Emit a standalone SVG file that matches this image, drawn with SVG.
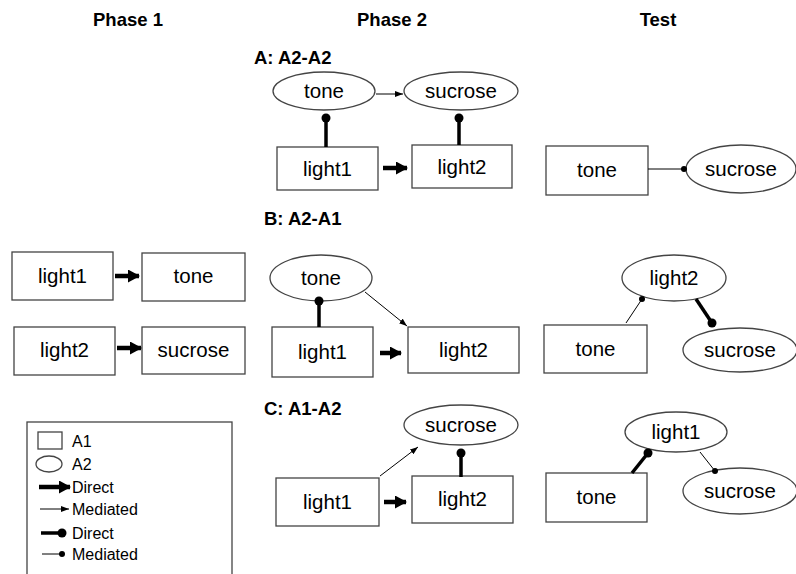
<svg xmlns="http://www.w3.org/2000/svg" width="796" height="574" viewBox="0 0 796 574">
<style>
text{font-family:"Liberation Sans",Arial,sans-serif;fill:#000}
.h{font-size:18.5px;font-weight:bold}
.n{font-size:20.5px;text-anchor:middle}
.lg{font-size:16px}
.box{fill:#fff;stroke:#444;stroke-width:1.3}
.thick{stroke:#000;stroke-width:4.5;fill:none}
.thin{stroke:#000;stroke-width:1;fill:none}
.dir{stroke:#000;stroke-width:3.5;fill:none}
.med{stroke:#000;stroke-width:1;fill:none}
.ball{fill:#000}
</style>
<defs>
<marker id="bigHead" markerUnits="userSpaceOnUse" markerWidth="12" markerHeight="13" refX="11" refY="6.5" orient="auto">
<path d="M0,0 L12,6.5 L0,13 Z" fill="#000"/>
</marker>
<marker id="smallHead" markerUnits="userSpaceOnUse" markerWidth="8" markerHeight="6" refX="8" refY="3" orient="auto">
<path d="M0,0 L8,3 L0,6 Z" fill="#000"/>
</marker>
</defs>

<g id="headers">
<text class="h" x="128" y="26" text-anchor="middle">Phase 1</text>
<text class="h" x="392" y="26" text-anchor="middle">Phase 2</text>
<text class="h" x="658" y="26" text-anchor="middle">Test</text>
<text class="h" x="254" y="64">A: A2-A2</text>
<text class="h" x="264" y="225">B: A2-A1</text>
<text class="h" x="264" y="415">C: A1-A2</text>
</g>

<!-- Phase 1 -->
<g id="p1-light1"><rect class="box" x="12" y="252" width="101" height="48"/><text class="n" x="62.5" y="283">light1</text></g>
<g id="p1-tone"><rect class="box" x="142" y="253" width="103" height="48"/><text class="n" x="193.5" y="283">tone</text></g>
<g id="p1-light2"><rect class="box" x="14" y="327" width="101" height="48"/><text class="n" x="64.5" y="357">light2</text></g>
<g id="p1-sucrose"><rect class="box" x="142" y="327" width="103" height="47"/><text class="n" x="193.5" y="357">sucrose</text></g>

<!-- Section A -->
<g id="a-tone"><ellipse class="box" cx="324" cy="91" rx="51" ry="19"/><text class="n" x="324" y="98">tone</text></g>
<g id="a-sucrose"><ellipse class="box" cx="461" cy="91" rx="57" ry="19"/><text class="n" x="461" y="98">sucrose</text></g>
<g id="a-light1"><rect class="box" x="277" y="147" width="101" height="43"/><text class="n" x="327.5" y="176">light1</text></g>
<g id="a-light2"><rect class="box" x="412" y="145" width="100" height="43"/><text class="n" x="462" y="174">light2</text></g>
<g id="at-tone"><rect class="box" x="546" y="146" width="102" height="49"/><text class="n" x="597" y="177">tone</text></g>
<g id="at-sucrose"><ellipse class="box" cx="741" cy="169" rx="55" ry="24"/><text class="n" x="741" y="176">sucrose</text></g>

<!-- Section B -->
<g id="b-tone"><ellipse class="box" cx="321" cy="278" rx="51" ry="23"/><text class="n" x="321" y="285">tone</text></g>
<g id="b-light1"><rect class="box" x="272" y="327" width="101" height="50"/><text class="n" x="322.5" y="359">light1</text></g>
<g id="b-light2"><rect class="box" x="408" y="327" width="111" height="46"/><text class="n" x="463.5" y="357">light2</text></g>
<g id="bt-light2"><ellipse class="box" cx="674" cy="278" rx="52" ry="23"/><text class="n" x="674" y="285">light2</text></g>
<g id="bt-tone"><rect class="box" x="544" y="325" width="103" height="48"/><text class="n" x="595.5" y="356">tone</text></g>
<g id="bt-sucrose"><ellipse class="box" cx="740" cy="350" rx="57" ry="22"/><text class="n" x="740" y="357">sucrose</text></g>

<!-- Section C -->
<g id="c-sucrose"><ellipse class="box" cx="461" cy="425" rx="57" ry="20"/><text class="n" x="461" y="432">sucrose</text></g>
<g id="c-light1"><rect class="box" x="276" y="478" width="103" height="48"/><text class="n" x="327.5" y="509">light1</text></g>
<g id="c-light2"><rect class="box" x="412" y="476" width="101" height="47"/><text class="n" x="462.5" y="506">light2</text></g>
<g id="ct-light1"><ellipse class="box" cx="676" cy="432" rx="51" ry="20"/><text class="n" x="676" y="439">light1</text></g>
<g id="ct-tone"><rect class="box" x="546" y="473" width="101" height="49"/><text class="n" x="596.5" y="504">tone</text></g>
<g id="ct-sucrose"><ellipse class="box" cx="740" cy="491" rx="57" ry="23"/><text class="n" x="740" y="498">sucrose</text></g>

<g id="connectors">
<!-- Phase 1 -->
<line class="thick" x1="115" y1="276" x2="139" y2="276" marker-end="url(#bigHead)"/>
<line class="thick" x1="117" y1="348" x2="141" y2="348" marker-end="url(#bigHead)"/>
<!-- A -->
<line class="thin" x1="376" y1="94" x2="403" y2="94" marker-end="url(#smallHead)"/>
<line class="thick" x1="383" y1="168" x2="407" y2="168" marker-end="url(#bigHead)"/>
<line class="dir" x1="326" y1="147" x2="326" y2="118"/><circle class="ball" cx="326" cy="118" r="4.5"/>
<line class="dir" x1="459" y1="145" x2="459" y2="118"/><circle class="ball" cx="459" cy="118" r="4.5"/>
<line class="med" x1="648" y1="169" x2="684" y2="169"/><circle class="ball" cx="684" cy="169" r="3"/>
<!-- B -->
<line class="dir" x1="319" y1="327" x2="319" y2="301"/><circle class="ball" cx="319" cy="301" r="4.5"/>
<line class="thin" x1="365" y1="292" x2="407" y2="326" marker-end="url(#smallHead)"/>
<line class="thick" x1="380" y1="353" x2="401" y2="353" marker-end="url(#bigHead)"/>
<line class="med" x1="626" y1="323" x2="642" y2="299"/><circle class="ball" cx="642" cy="299" r="3"/>
<line class="dir" x1="696" y1="299" x2="712" y2="323"/><circle class="ball" cx="712" cy="323" r="4.5"/>
<!-- C -->
<line class="thin" x1="380" y1="476" x2="418" y2="447" marker-end="url(#smallHead)"/>
<line class="dir" x1="461" y1="477" x2="461" y2="453"/><circle class="ball" cx="461" cy="453" r="4.5"/>
<line class="thick" x1="384" y1="502" x2="406" y2="502" marker-end="url(#bigHead)"/>
<line class="dir" x1="632" y1="473" x2="648" y2="453"/><circle class="ball" cx="648" cy="453" r="4.5"/>
<line class="med" x1="700" y1="452" x2="715" y2="471"/><circle class="ball" cx="715" cy="471" r="3"/>
</g>

<g id="legend">
<rect class="box" x="27" y="422" width="205" height="160"/>
<rect class="box" x="38" y="432" width="24" height="17"/>
<text class="lg" x="72" y="447">A1</text>
<ellipse class="box" cx="49" cy="464" rx="13" ry="8"/>
<text class="lg" x="72" y="470">A2</text>
<line class="thick" x1="39" y1="487" x2="70" y2="487" marker-end="url(#bigHead)"/>
<text class="lg" x="72" y="493">Direct</text>
<line class="thin" x1="40" y1="509" x2="69" y2="509" marker-end="url(#smallHead)"/>
<text class="lg" x="72" y="515">Mediated</text>
<line class="dir" x1="41" y1="533" x2="62" y2="533"/><circle class="ball" cx="62" cy="533" r="4.5"/>
<text class="lg" x="72" y="539">Direct</text>
<line class="med" x1="42" y1="554" x2="62" y2="554"/><circle class="ball" cx="62" cy="554" r="3"/>
<text class="lg" x="72" y="560">Mediated</text>
</g>
</svg>
